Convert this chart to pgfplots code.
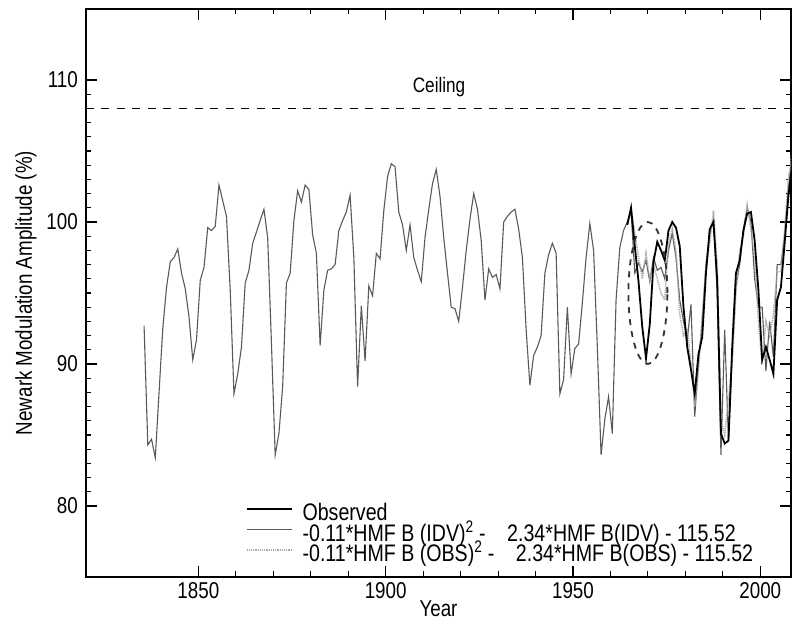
\documentclass[border=0pt]{standalone}
\usepackage{fontspec}
\setmainfont[FakeStretch=0.82]{Liberation Sans}
\usepackage{pgfplots}
\pgfplotsset{compat=1.18}
\usepackage{pgfplotstable}

\pgfplotstableread{
year val
1835.5 92.7
1836.5 84.3
1837.5 84.7
1838.5 83.4
1839.5 88.0
1840.5 92.5
1841.5 95.4
1842.5 97.2
1843.5 97.5
1844.5 98.1
1845.5 96.4
1846.5 95.3
1847.5 93.3
1848.5 90.3
1849.5 91.7
1850.5 95.9
1851.5 96.8
1852.5 99.6
1853.5 99.4
1854.5 99.7
1855.5 102.6
1856.5 101.5
1857.5 100.4
1858.5 95.2
1859.5 87.9
1860.5 89.3
1861.5 91.2
1862.5 95.7
1863.5 96.6
1864.5 98.5
1865.5 99.3
1866.5 100.1
1867.5 100.9
1868.5 98.9
1869.5 91.5
1870.5 83.6
1871.5 85.1
1872.5 88.4
1873.5 95.7
1874.5 96.4
1875.5 100.1
1876.5 102.2
1877.5 101.4
1878.5 102.6
1879.5 102.3
1880.5 99.1
1881.5 97.8
1882.5 91.3
1883.5 95.2
1884.5 96.6
1885.5 96.7
1886.5 97.0
1887.5 99.4
1888.5 100.1
1889.5 100.7
1890.5 101.9
1891.5 97.5
1892.5 88.4
1893.5 94.1
1894.5 90.2
1895.5 95.5
1896.5 94.8
1897.5 97.8
1898.5 97.4
1899.5 100.8
1900.5 103.2
1901.5 104.1
1902.5 103.9
1903.5 100.7
1904.5 99.8
1905.5 98.0
1906.5 99.8
1907.5 97.5
1908.5 96.6
1909.5 95.8
1910.5 98.9
1911.5 100.9
1912.5 102.7
1913.5 103.7
1914.5 101.8
1915.5 98.9
1916.5 96.4
1917.5 94.0
1918.5 93.9
1919.5 93.0
1920.5 95.4
1921.5 98.0
1922.5 100.2
1923.5 102.0
1924.5 100.9
1925.5 98.7
1926.5 94.5
1927.5 96.7
1928.5 96.1
1929.5 96.3
1930.5 95.3
1931.5 100.0
1932.5 100.4
1933.5 100.7
1934.5 100.9
1935.5 99.5
1936.5 97.5
1937.5 92.4
1938.5 88.5
1939.5 90.6
1940.5 91.2
1941.5 92.0
1942.5 96.4
1943.5 97.7
1944.5 98.5
1945.5 97.8
1946.5 87.9
1947.5 88.9
1948.5 94.0
1949.5 89.3
1950.5 91.1
1951.5 91.4
1952.5 94.3
1953.5 97.5
1954.5 99.9
1955.5 98.0
1956.5 91.2
1957.5 83.6
1958.5 86.1
1959.5 87.7
1960.5 85.1
1961.5 94.5
1962.5 98.2
1963.5 99.4
1964.5 100.0
1965.5 100.8
1966.5 96.4
1967.5 97.1
1968.5 96.5
1969.5 97.3
1970.5 95.8
1971.5 97.5
1972.5 96.6
1973.5 96.8
1974.5 96.0
1975.5 98.0
1976.5 99.2
1977.5 97.5
1978.5 94.5
1979.5 93.0
1980.5 91.7
1981.5 94.2
1982.5 86.3
1983.5 90.0
1984.5 93.0
1985.5 97.0
1986.5 99.2
1987.5 100.2
1988.5 95.0
1989.5 83.6
1990.5 92.4
1991.5 84.6
1992.5 90.5
1993.5 95.5
1994.5 97.0
1995.5 99.5
1996.5 101.0
1997.5 100.0
1998.5 96.0
1999.5 94.0
2000.5 94.0
2001.5 89.5
2002.5 93.0
2003.5 90.5
2004.5 97.0
2005.5 97.0
2006.5 99.0
2007.5 102.5
2008.5 104.5
}\idv

\pgfplotstableread{
year val
1965.5 101.0
1966.5 99.2
1967.5 97.5
1968.5 96.0
1969.5 97.8
1970.5 96.0
1971.5 97.0
1972.5 96.0
1973.5 95.0
1974.5 94.5
1975.5 98.5
1976.5 99.5
1977.5 98.0
1978.5 93.5
1979.5 92.0
1980.5 92.5
1981.5 90.0
1982.5 87.0
1983.5 89.5
1984.5 93.5
1985.5 96.8
1986.5 98.5
1987.5 100.8
1988.5 97.0
1989.5 86.0
1990.5 85.0
1991.5 87.5
1992.5 90.0
1993.5 95.0
1994.5 98.0
1995.5 99.0
1996.5 101.2
1997.5 99.5
1998.5 97.5
1999.5 93.0
2000.5 90.0
2001.5 93.0
2002.5 92.0
2003.5 93.5
2004.5 96.5
2005.5 96.5
2006.5 99.5
2007.5 103.0
2008.5 105.0
}\obs

\pgfplotstableread{
year val
1964.5 99.8
1965.5 101.0
1966.5 98.3
1967.5 95.8
1968.5 92.6
1969.5 90.4
1970.5 92.8
1971.5 97.2
1972.5 98.6
1973.5 98.0
1974.5 97.3
1975.5 99.4
1976.5 100.0
1977.5 99.6
1978.5 98.3
1979.5 94.0
1980.5 91.2
1981.5 89.6
1982.5 87.9
1983.5 90.7
1984.5 91.9
1985.5 96.4
1986.5 99.5
1987.5 100.0
1988.5 95.9
1989.5 85.1
1990.5 84.4
1991.5 84.6
1992.5 91.2
1993.5 96.4
1994.5 97.3
1995.5 99.4
1996.5 100.6
1997.5 100.7
1998.5 98.7
1999.5 95.2
2000.5 90.3
2001.5 91.2
2002.5 90.3
2003.5 89.3
2004.5 94.5
2005.5 95.4
2006.5 98.5
2007.5 101.8
2008.5 104.0
}\observed

\begin{document}
\begin{tikzpicture}[font=\fontsize{23}{27}\selectfont]
\begin{axis}[
  scale only axis,
  width=705bp, height=568bp,
  xmin=1820, xmax=2008.2,
  ymin=75, ymax=115,
  xtick={1850,1900,1950,2000},
  ytick={80,90,100,110},
  minor x tick num=4,
  minor y tick num=9,
  major tick length=11bp,
  minor tick length=5.5bp,
  tick align=inside,
  axis line style={line width=1.3bp},
  every tick/.style={black, line width=1.1bp},
  /pgf/number format/assume math mode=true,
  /pgf/number format/1000 sep={},
  xticklabel style={anchor=base, inner sep=0pt, yshift=-21bp},
  yticklabel style={anchor=east, inner sep=0pt, xshift=-8bp},
  xlabel={Year},
  ylabel={Newark Modulation Amplitude (\%)},
  xlabel style={at={(axis description cs:0.5,0)}, anchor=base, inner sep=0pt, text depth=0pt, yshift=-39bp},
  ylabel style={at={(axis description cs:-0.0766,0.5)}, anchor=base, inner sep=0pt, rotate=0},
  clip=true,
  legend cell align=left,
  legend style={draw=none, fill=none, at={(axis cs:1862.6,80.1)}, anchor=north west,
    inner sep=0pt, row sep=0pt,
    font=\fontsize{24}{27}\selectfont,
    nodes={inner sep=0pt, text height=16bp, text depth=4.5bp},
    column sep=10bp},
  legend image code/.code={\draw[#1] (0bp,6bp) -- (45bp,6bp);},
]
\addlegendimage{black, line width=1.8bp}
\addlegendentry{Observed}
\addlegendimage{black!65, line width=1.1bp}
\addlegendentry{-0.11*HMF B (IDV)\textsuperscript{2} -\hspace{0.9em}2.34*HMF B(IDV) - 115.52}
\addlegendimage{black!35, line width=1.3bp, dash pattern=on 1.2bp off 1bp}
\addlegendentry{-0.11*HMF B (OBS)\textsuperscript{2} -\hspace{0.9em}2.34*HMF B(OBS) - 115.52}

\addplot[forget plot, black, line width=1.2bp, dash pattern=on 8bp off 7.5bp] coordinates {(1820,108) (2008.2,108)};
\addplot[forget plot, black!65, line width=1.1bp] table[x=year, y=val] {\idv};
\addplot[forget plot, black!35, line width=1.5bp, dash pattern=on 1.2bp off 1bp] table[x=year, y=val] {\obs};
\addplot[forget plot, black, line width=1.8bp] table[x=year, y=val] {\observed};
\draw[black!80, line width=1.8bp, dash pattern=on 6bp off 6bp] (axis cs:1970,95) ellipse [x radius=5.2, y radius=5];
\node[anchor=base west, inner sep=0pt, font=\fontsize{21}{25}\selectfont] at (axis cs:1907.2,109.1) {Ceiling};
\end{axis}
\path (current axis.south west) ++(-86bp,-43bp);
\path (current axis.north east) ++(1bp,9bp);
\end{tikzpicture}
\end{document}
